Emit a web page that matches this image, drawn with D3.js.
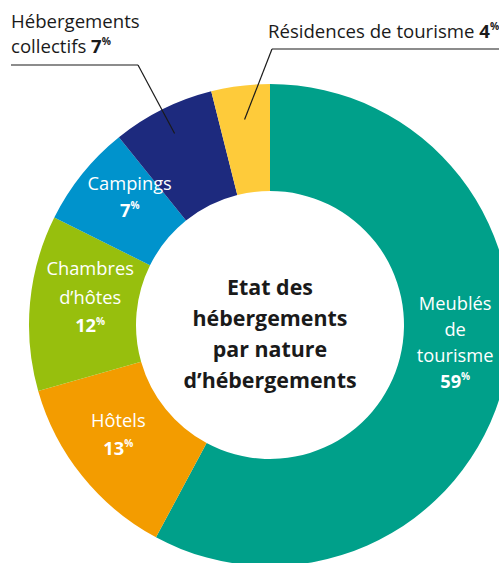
<!DOCTYPE html>
<html>
<head>
<meta charset="utf-8">
<script src="https://cdn.jsdelivr.net/npm/d3@7"></script>
<style>
  html, body { margin: 0; padding: 0; background: #fff; }
  svg { display: block; font-family: "Open Sans", sans-serif; }
</style>
</head>
<body>
<svg id="chart" width="499" height="563"></svg>
<script>
// Accommodation types, clockwise from 12 o'clock
const categories = [
  "Meublés de tourisme",
  "Hôtels",
  "Chambres d’hôtes",
  "Campings",
  "Hébergements collectifs",
  "Résidences de tourisme"
];
const shares = [59, 13, 12, 7, 7, 4];
const colors = ["#00a08a", "#f39c00", "#97bf0d", "#0093cc", "#1d2a7e", "#fecb3a"];
// How each label is broken into lines
const labelLines = [
  ["Meublés", "de", "tourisme"],
  ["Hôtels"],
  ["Chambres", "d’hôtes"],
  ["Campings"],
  ["Hébergements", "collectifs"],
  ["Résidences de tourisme"]
];
const titleLines = ["Etat des", "hébergements", "par nature", "d’hébergements"];

const svg = d3.select("#chart");
const cx = 270, cy = 325;
const outerR = 241, innerR = 134;

const pie = d3.pie().sort(null).value(d => d)(shares);
const arc = d3.arc().innerRadius(innerR).outerRadius(outerR);

const g = svg.append("g").attr("transform", `translate(${cx},${cy})`);

g.selectAll("path.slice")
  .data(pie)
  .join("path")
  .attr("class", "slice")
  .attr("d", arc)
  .attr("fill", (d, i) => colors[i]);

// Labels set inside the ring, placed by angle (degrees from 12 o'clock) and radius
const inside = {
  0: { angle: 95.4, r: 186, line: 26 },
  1: { angle: 234.2, r: 187, line: 28 },
  2: { angle: 278.8, r: 182, line: 28.5 },
  3: { angle: 312.4, r: 190, line: 27 }
};
const fs = 18.3;
const fsOut = 18.6;

function valueText(sel, v, size) {
  sel.append("tspan").attr("font-weight", "bold").attr("font-size", size).text(v);
  sel.append("tspan").attr("font-weight", "bold").attr("font-size", size * 0.55)
    .attr("dy", -size * 0.42).text("%");
}

Object.entries(inside).forEach(([k, o]) => {
  const i = +k;
  const a = o.angle * Math.PI / 180;
  const px = o.r * Math.sin(a), py = -o.r * Math.cos(a);
  const lines = labelLines[i];
  const n = lines.length + 1;
  const top = py - (n - 1) * o.line / 2 + fs * 0.36;
  const t = g.append("g").attr("fill", "#fff").attr("text-anchor", "middle");
  lines.forEach((s, j) => {
    t.append("text").attr("x", px).attr("y", top + j * o.line)
      .attr("font-size", fs).text(s);
  });
  const vt = t.append("text").attr("x", px).attr("y", top + lines.length * o.line);
  valueText(vt, shares[i], fs);
});

// Outside labels with elbow leader lines
const outside = [
  { i: 4, x: -259, y: -297, lineGap: 25, elbowY: -260, elbowX: -132, rule: [-259, -132], rEnd: 214 },
  { i: 5, x: -2, y: -287, lineGap: 0, elbowY: -276, elbowX: 2, rule: [2, 229], rEnd: 207 }
];
outside.forEach(o => {
  const d = pie[o.i];
  const mid = (d.startAngle + d.endAngle) / 2;
  const ex = o.rEnd * Math.sin(mid), ey = -o.rEnd * Math.cos(mid);
  const lines = labelLines[o.i];
  const t = g.append("g").attr("fill", "#1a1a1a");
  lines.forEach((s, j) => {
    const last = j === lines.length - 1;
    const tx = t.append("text").attr("x", o.x).attr("y", o.y + j * o.lineGap)
      .attr("font-size", fsOut).text(s + (last ? " " : ""));
    if (last) valueText(tx, shares[o.i], fsOut);
  });
  g.append("path")
    .attr("d", d3.line()([[o.rule[0], o.elbowY], [o.rule[1], o.elbowY]]))
    .attr("stroke", "#1a1a1a").attr("stroke-width", 1.2).attr("fill", "none");
  g.append("path")
    .attr("d", d3.line()([[o.elbowX, o.elbowY], [ex, ey]]))
    .attr("stroke", "#1a1a1a").attr("stroke-width", 1.2).attr("fill", "none");
});

// Title in the hole
const title = g.append("g").attr("text-anchor", "middle").attr("font-weight", "bold")
  .attr("fill", "#1a1a1a");
titleLines.forEach((s, j) => {
  title.append("text").attr("x", 0).attr("y", -30 + j * 31)
    .attr("font-size", 21.4).text(s);
});
</script>
</body>
</html>
